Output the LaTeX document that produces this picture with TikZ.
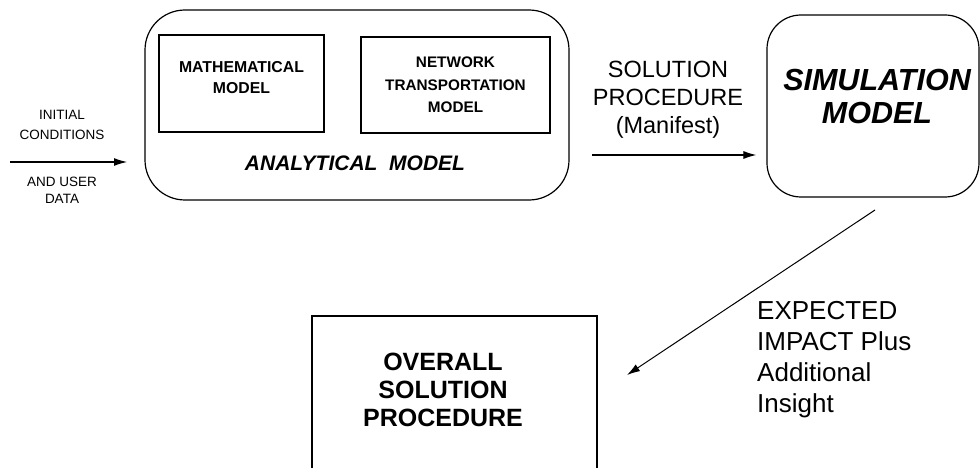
\documentclass[tikz,border=0pt]{standalone}
\usepackage{fontspec}
\setmainfont{Liberation Sans}
\usetikzlibrary{arrows.meta}
\newcommand{\fs}[2]{\fontsize{#1}{#2}\selectfont}
\begin{document}
\begin{tikzpicture}[x=1pt,y=-1pt,
  box/.style={draw, line width=1.2pt, inner sep=0pt},
  rbox/.style={box, rounded corners=#1},
  txt/.style={inner sep=0pt, align=center},
  arr/.style={draw, line width=1.1pt, -{Latex[length=13pt,width=8pt]}}]
\useasboundingbox (0,0) rectangle (980,468);
% analytical model
\node[rbox=40pt, minimum width=424pt, minimum height=190pt] (anal) at (357,105) {};
\node[box, minimum width=165pt, minimum height=97pt] (math) at (241.5,83.5) {};
\node[txt, font=\bfseries\fs{15.8}{21}] (mathtxt) at (241.5,77.5) {MATHEMATICAL\\MODEL};
\node[box, minimum width=189pt, minimum height=96pt, align=center, font=\bfseries\fs{15.3}{22.5}] (net) at (455.5,85) {NETWORK\\TRANSPORTATION\\MODEL};
\node[txt, font=\bfseries\itshape\fs{21}{22}] (analtxt) at (355,163) {ANALYTICAL\ \ MODEL};
% inputs
\node[txt, font=\fs{13.5}{20}] (init) at (62,125) {INITIAL\\CONDITIONS};
\node[txt, font=\fs{13.5}{17}] (user) at (62,190) {AND USER\\DATA};
\coordinate (in0) at (10,162);
\coordinate (in1) at (127,162);
\draw[arr] (in0) -- (in1);
% simulation model
\node[rbox=34pt, minimum width=212pt, minimum height=182pt] (sim) at (873,106) {};
\node[txt, font=\bfseries\itshape\fs{30.5}{33}] (simtxt) at (877,96.5) {SIMULATION\\MODEL};
% solution procedure arrow
\node[txt, font=\fs{23.5}{28}] (sol) at (668,100) {SOLUTION\\PROCEDURE\\(Manifest)};
\coordinate (s0) at (592,155);
\draw[arr] (s0) -- ([xshift=-10pt]sim.west |- s0);
% overall
\node[box, minimum width=285pt, minimum height=164pt] (over) at (454.5,398) {};
\node[txt, font=\bfseries\fs{25}{28}] (overtxt) at (443,390) {OVERALL\\SOLUTION\\PROCEDURE};
% expected impact
\node[txt, align=left, anchor=west, font=\fs{26}{31}] (exp) at (757,360) {EXPECTED\\IMPACT Plus\\Additional\\Insight};
\coordinate (d0) at (875,210);
\coordinate (d1) at (627,375);
\draw[line width=1pt, -{Latex[length=13pt,width=8pt]}] (d0) -- (d1);
\end{tikzpicture}
\end{document}
